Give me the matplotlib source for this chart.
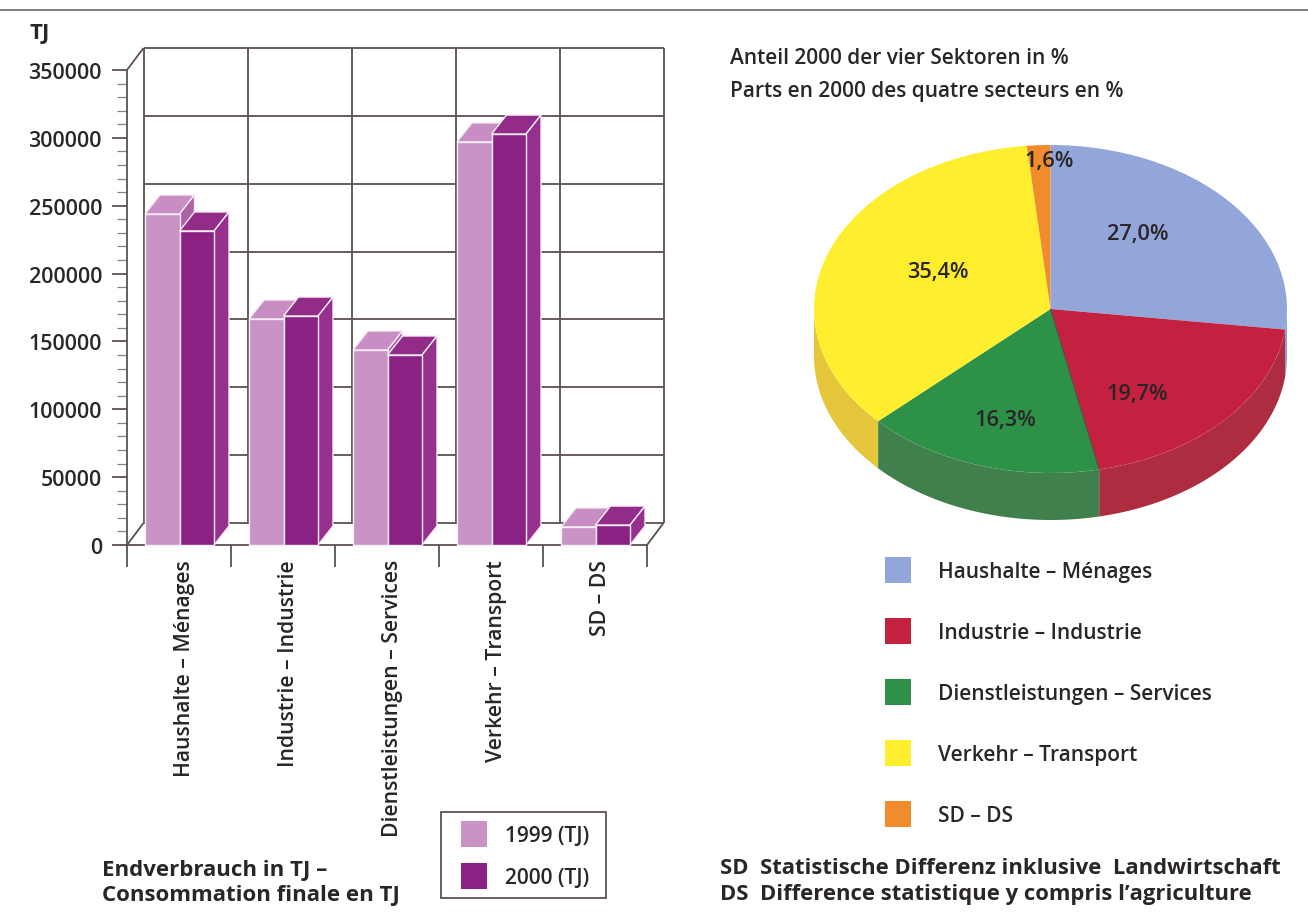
import numpy as np
import matplotlib
matplotlib.use("Agg")
import matplotlib.pyplot as plt
from matplotlib.patches import Polygon, Patch, Rectangle

W, H = 1308, 920
categories = ["Haushalte – Ménages", "Industrie – Industrie", "Dienstleistungen – Services",
              "Verkehr – Transport", "SD – DS"]
values_1999 = [243900, 166500, 143700, 297000, 13300]
values_2000 = [231400, 168700, 140000, 302800, 14700]
series_names = ["1999 (TJ)", "2000 (TJ)"]
shares = [27.0, 19.7, 16.3, 35.4, 1.6]
share_labels = ["27,0%", "19,7%", "16,3%", "35,4%", "1,6%"]

plt.rcParams['font.family'] = ['Open Sans', 'DejaVu Sans']
plt.rcParams['font.weight'] = 'semibold'
INK = '#2a2628'
LINE = '#5c5052'
FS = 15.0

fig = plt.figure(figsize=(W/100, H/100), dpi=100, facecolor='white')

def box(l, t, r, b):
    return [l/W, 1-b/H, (r-l)/W, (b-t)/H]

def ftext(x, y, s, **k):
    k.setdefault('fontsize', FS); k.setdefault('color', INK)
    k.setdefault('va', 'center'); k.setdefault('ha', 'left')
    fig.text(x/W, 1-y/H, s, **k)

# top rule
fig.add_artist(plt.Line2D([0, 1], [1-11/H, 1-11/H], color='#6a6a6a', lw=1.2))

# ---------- bars ----------
ax = fig.add_axes(box(127, 71, 647, 546))
ax.set_xlim(0, 5); ax.set_ylim(0, 350000)
ax.patch.set_visible(False)
for s in ('top', 'right'):
    ax.spines[s].set_visible(False)
for s in ('left', 'bottom'):
    ax.spines[s].set_color(LINE); ax.spines[s].set_linewidth(1.3)
n = len(categories)
ymax = 350000
wall_dx = 16.5/104          # wall depth in category units
wall_dy = 22/475*ymax       # wall depth in value units
bar_dx = 15/104
bar_dy = 19/475*ymax
gl = dict(color=LINE, lw=1.3, clip_on=False, zorder=1, solid_capstyle='butt')
ticks = np.arange(0, ymax+1, 50000)
for t in ticks:
    ax.plot([wall_dx, n+wall_dx], [t+wall_dy, t+wall_dy], **gl)
for i in range(n+1):
    ax.plot([i+wall_dx, i+wall_dx], [wall_dy, ymax+wall_dy], **gl)
ax.plot([0, wall_dx], [ymax, ymax+wall_dy], **gl)
ax.plot([0, wall_dx], [0, wall_dy], **gl)
ax.plot([n, n+wall_dx], [0, wall_dy], **gl)

BW = 34.5/104
OFF = 18/104
faces = [('#C993C6', '#C88DC2', '#AC62A4'), ('#8B2283', '#932B89', '#972F8D')]
for k, vals in enumerate([values_1999, values_2000]):
    x0 = np.arange(n) + OFF + k*BW
    z = 3 + k
    ax.bar(x0, vals, width=BW, align='edge', color=faces[k][0], edgecolor='#f6eef6', lw=1.0,
           zorder=z+0.1, clip_on=False)
    for x, v in zip(x0, vals):
        ax.add_patch(Polygon([(x, v), (x+BW, v), (x+BW+bar_dx, v+bar_dy), (x+bar_dx, v+bar_dy)],
                             fc=faces[k][1], ec='#f6eef6', lw=1.0, zorder=z, clip_on=False))
        ax.add_patch(Polygon([(x+BW, 0), (x+BW, v), (x+BW+bar_dx, v+bar_dy), (x+BW+bar_dx, bar_dy)],
                             fc=faces[k][2], ec='#f6eef6', lw=1.0, zorder=z, clip_on=False))

ax.set_yticks(ticks)
ax.set_yticklabels([str(int(t)) for t in ticks], fontsize=15.4, color=INK)
ax.set_yticks(np.arange(0, ymax+1, 10000), minor=True)
ax.tick_params(axis='y', which='major', length=11, width=1.3, color=LINE, pad=7)
ax.tick_params(axis='y', which='minor', length=7, width=0.9, color='#8a8082')
ax.set_xticks(np.arange(n+1))
ax.set_xticklabels([])
ax.set_xticks(np.arange(n)+0.555, minor=True)
ax.set_xticklabels(categories, minor=True, rotation=90, va='top', ha='center', fontsize=15.2, color=INK)
ax.tick_params(axis='x', which='major', length=16, width=1.3, color=LINE)
ax.tick_params(axis='x', which='minor', length=0, pad=10)

ftext(30, 34, "TJ", fontsize=16, weight='bold')
ftext(102, 871, "Endverbrauch in TJ –", fontsize=16, weight='bold')
ftext(102, 896, "Consommation finale en TJ", fontsize=16, weight='bold')

fs_px = FS*100/72
hh = (26/fs_px - 0.245)/0.65
fig.add_artist(Rectangle((441/W, 1-899/H), 165/W, 86/H, transform=fig.transFigure,
                         fc='none', ec=LINE, lw=1.3))
leg1 = ax.legend(handles=[Patch(fc=faces[0][0], label=series_names[0]),
                          Patch(fc=faces[1][0], label=series_names[1])],
                 loc='upper left', bbox_to_anchor=(461/W, 1-822/H), bbox_transform=fig.transFigure,
                 borderaxespad=0, fontsize=FS, frameon=False, borderpad=0,
                 handlelength=26/fs_px, handleheight=hh, handletextpad=18/fs_px,
                 labelspacing=16/fs_px, labelcolor=INK)

# ---------- pie ----------
pa = fig.add_axes(box(814, 146, 1287, 474))
pie_colors = ['#93A6D9', '#C4203F', '#2D9148', '#FFEE2E', '#F08C2C']
side_colors = ['#8C9FD0', '#AE2C40', '#40804C', '#E5C53A', '#D98030']
wedges, _ = pa.pie(shares, colors=pie_colors, startangle=90, counterclock=False, radius=1,
                   wedgeprops=dict(lw=0))
pa.set_aspect('auto')
pa.set_xlim(-1, 1); pa.set_ylim(-1, 1)
depth = 47/164
ends = 90 - np.cumsum(shares)/np.sum(shares)*360
starts = np.r_[90, ends[:-1]]
for a0, a1, c in zip(starts, ends, side_colors):
    # visible rim: the part of the slice on the front half of the disc
    hi = min(a0, 0) if a0 > -180 else None
    lo = max(a1, -180)
    if hi is None or hi <= lo:
        continue
    th = np.radians(np.linspace(lo, hi, 80))
    xs, ys = np.cos(th), np.sin(th)
    pa.add_patch(Polygon(np.r_[np.c_[xs, ys], np.c_[xs[::-1], ys[::-1]-depth]],
                         fc=c, ec='none', zorder=0, clip_on=False))
for w in wedges:
    w.set_zorder(2); w.set_clip_on(False)
pa.plot([0, np.cos(np.radians(ends[1]))], [0, np.sin(np.radians(ends[1]))], color='#4a4a3a', lw=0.7, zorder=3)
label_xy = [(0.371, 0.458), (0.367, -0.517), (-0.19, -0.672), (-0.475, 0.227), (-0.008, 0.905)]
for (lx, ly), s in zip(label_xy, share_labels):
    pa.text(lx, ly, s, ha='center', va='center', fontsize=15.7, color=INK, zorder=5)

ftext(730, 59, "Anteil 2000 der vier Sektoren in %", fontsize=15)
ftext(730, 92, "Parts en 2000 des quatre secteurs en %", fontsize=15)
leg2 = pa.legend(handles=[Patch(fc=c, label=l) for c, l in zip(pie_colors, categories)],
                 loc='upper left', bbox_to_anchor=(885/W, 1-558/H), bbox_transform=fig.transFigure,
                 borderaxespad=0, fontsize=FS, frameon=False, borderpad=0,
                 handlelength=26/fs_px, handleheight=hh, handletextpad=27/fs_px,
                 labelspacing=35/fs_px, labelcolor=INK)
ftext(720, 869, "SD  Statistische Differenz inklusive  Landwirtschaft", fontsize=15.8, weight='bold')
ftext(720, 895, "DS  Difference statistique y compris l’agriculture", fontsize=15.8, weight='bold')

fig.savefig("out.png", dpi=100, facecolor='white')
